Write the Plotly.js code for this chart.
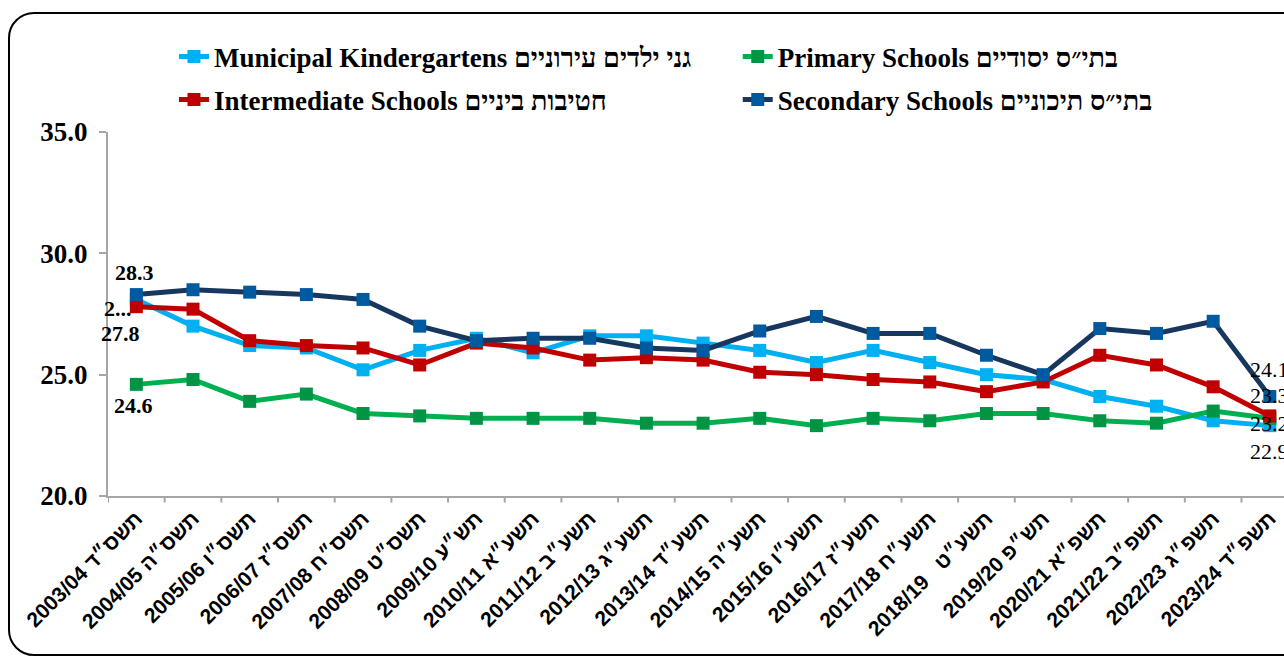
<!DOCTYPE html>
<html>
<head>
<meta charset="utf-8">
<script src="https://cdn.plot.ly/plotly-3.0.1.min.js"></script>
<style>
  html, body { margin: 0; padding: 0; background: #fff; overflow: hidden; }
  #wrap { position: relative; width: 1284px; height: 657px; overflow: hidden; }
  #chart { position: absolute; left: 0; top: 0; width: 1284px; height: 657px; }
  #frame { position: absolute; left: 8px; top: 12px; width: 1340px; height: 644px;
           border: 2px solid #000; border-radius: 26px; pointer-events: none; box-sizing: border-box; }
</style>
</head>
<body>
<div id="wrap">
  <div id="chart"></div>
  <div id="frame"></div>
</div>
<script>
// ---- data ----
const years = ["2003/04 תשס״ד","2004/05 תשס״ה","2005/06 תשס״ו","2006/07 תשס״ז","2007/08 תשס״ח",
  "2008/09 תשס״ט","2009/10 תש״ע","2010/11 תשע״א","2011/12 תשע״ב","2012/13 תשע״ג",
  "2013/14 תשע״ד","2014/15 תשע״ה","2015/16 תשע״ו","2016/17 תשע״ז","2017/18 תשע״ח",
  "2018/19   תשע״ט","2019/20 תש״פ","2020/21 תשפ״א","2021/22 תשפ״ב","2022/23 תשפ״ג","2023/24 תשפ״ד"];

const kindergartens = [28.1, 27.0, 26.2, 26.1, 25.2, 26.0, 26.5, 25.9, 26.6, 26.6, 26.3, 26.0, 25.5, 26.0, 25.5, 25.0, 24.8, 24.1, 23.7, 23.1, 22.9];
const primary       = [24.6, 24.8, 23.9, 24.2, 23.4, 23.3, 23.2, 23.2, 23.2, 23.0, 23.0, 23.2, 22.9, 23.2, 23.1, 23.4, 23.4, 23.1, 23.0, 23.5, 23.2];
const intermediate  = [27.8, 27.7, 26.4, 26.2, 26.1, 25.4, 26.3, 26.1, 25.6, 25.7, 25.6, 25.1, 25.0, 24.8, 24.7, 24.3, 24.7, 25.8, 25.4, 24.5, 23.3];
const secondary     = [28.3, 28.5, 28.4, 28.3, 28.1, 27.0, 26.4, 26.5, 26.5, 26.1, 26.0, 26.8, 27.4, 26.7, 26.7, 25.8, 25.0, 26.9, 26.7, 27.2, 24.1];

const seriesNames = ["Municipal Kindergartens גני ילדים עירוניים", "Primary Schools בתי״ס יסודיים",
                     "Intermediate Schools חטיבות ביניים", "Secondary Schools בתי״ס תיכוניים"];

const idx = years.map((_, i) => i);
const last = years.length - 1;

const serif = "Liberation Serif, 'Times New Roman', serif";
const sans = "Liberation Sans, Arial, sans-serif";

function tr(y, name, lineColor, markerColor, legend) {
  return { x: idx, y: y, name: name, type: 'scatter', mode: 'lines+markers', legend: legend,
    line: { color: lineColor, width: 5 },
    marker: { symbol: 'square', size: 13, color: markerColor },
    cliponaxis: false, hoverinfo: 'skip' };
}

const data = [
  tr(kindergartens, seriesNames[0], '#00B0F0', '#00B0F0', 'legend'),
  tr(primary,       seriesNames[1], '#00B050', '#009444', 'legend2'),
  tr(intermediate,  seriesNames[2], '#C00000', '#C00000', 'legend3'),
  tr(secondary,     seriesNames[3], '#17375E', '#005AA0', 'legend4')
];

function lab(x, y, text, xshift, yshift, bold, anchor) {
  return { x: x, y: y, xref: 'x', yref: 'y', text: text, showarrow: false,
    xanchor: anchor || 'center', yanchor: 'middle', xshift: xshift, yshift: yshift,
    font: { family: serif, size: 22, color: '#000', weight: bold ? 'bold' : 'normal' } };
}

const annotations = [
  lab(0, kindergartens[0], '2...', -18, -9, true),
  lab(0, secondary[0], secondary[0].toFixed(1), -2, 22, true),
  lab(0, intermediate[0], intermediate[0].toFixed(1), -16, -27, true),
  lab(0, primary[0], primary[0].toFixed(1), -3, -21, true),
  lab(last, secondary[last], secondary[last].toFixed(1), -22, 27, false, 'left'),
  lab(last, intermediate[last], intermediate[last].toFixed(1), -22, 20, false, 'left'),
  lab(last, primary[last], primary[last].toFixed(1), -22, -5, false, 'left'),
  lab(last, kindergartens[last], kindergartens[last].toFixed(1), -22, -26, false, 'left')
];

function leg(x, y) {
  return {
    orientation: 'h', xanchor: 'left', yanchor: 'middle', x: x, y: y,
    font: { family: serif, size: 27, color: '#000', weight: 'bold' },
    bgcolor: 'rgba(0,0,0,0)', borderwidth: 0, itemclick: false, itemdoubleclick: false
  };
}

const layout = {
  width: 1284, height: 657,
  margin: { l: 108, r: 0, t: 132, b: 161, pad: 0 },
  paper_bgcolor: '#ffffff', plot_bgcolor: '#ffffff',
  showlegend: true,
  legend:  leg(0.0561, 1.206),
  legend2: leg(0.5355, 1.206),
  legend3: leg(0.0561, 1.088),
  legend4: leg(0.5355, 1.088),
  xaxis: {
    type: 'linear', range: [-0.5, 20.25], autorange: false,
    tickmode: 'array', tickvals: idx, ticktext: years, tickangle: -45,
    showline: true, linecolor: '#A6A6A6', linewidth: 2,
    showgrid: false, zeroline: false, ticks: '',
    tickfont: { family: sans, size: 21, color: '#000', weight: 'bold' },
    automargin: false
  },
  yaxis: {
    range: [20, 35], autorange: false, tickvals: [20, 25, 30, 35], tickformat: '.1f',
    showline: true, linecolor: '#A6A6A6', linewidth: 2,
    ticks: 'outside', ticklen: 7, tickwidth: 2, tickcolor: '#A6A6A6',
    showgrid: false, zeroline: false,
    tickfont: { family: serif, size: 27, color: '#000', weight: 'bold' },
    ticklabelstandoff: 6,
    automargin: false
  },
  annotations: annotations,
  shapes: idx.concat([last + 1]).map(i => ({
    type: 'line', xref: 'x', yref: 'paper', x0: i - 0.5, x1: i - 0.5, y0: 0, y1: -0.018,
    line: { color: '#A6A6A6', width: 2 }
  }))
};

Plotly.newPlot('chart', data, layout, { staticPlot: true, displayModeBar: false });
</script>
</body>
</html>
